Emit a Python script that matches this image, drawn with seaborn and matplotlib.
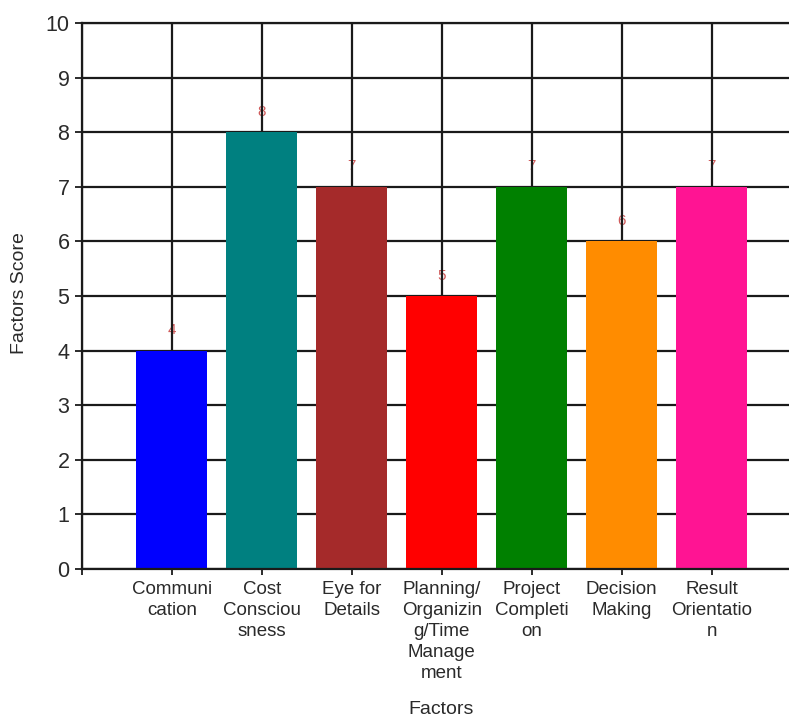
import matplotlib
matplotlib.use("Agg")
import matplotlib.pyplot as plt
import seaborn as sns
import pandas as pd

# Factor names (wrapped as in the chart's axis) and their scores
factors = [
    "Communi\ncation",
    "Cost\nConsciou\nsness",
    "Eye for\nDetails",
    "Planning/\nOrganizin\ng/Time\nManage\nment",
    "Project\nCompleti\non",
    "Decision\nMaking",
    "Result\nOrientatio\nn",
]
scores = [4, 8, 7, 5, 7, 6, 7]
bar_colors = ["#0000FF", "#008080", "#A52A2A", "#FF0000", "#008000", "#FF8C00", "#FF1493"]
y_ticks = list(range(0, 11))

sns.set_style("white")
plt.rcParams["font.family"] = ["Liberation Sans", "DejaVu Sans"]

df = pd.DataFrame({"Factor": factors, "Score": scores})

fig = plt.figure(figsize=(7.89, 7.23), dpi=100)
ax = fig.add_axes([82 / 789, 1 - 569 / 723, 1 - 82 / 789, (569 - 23) / 723])

sns.barplot(data=df, x="Factor", y="Score", hue="Factor", palette=bar_colors,
            legend=False, width=0.79, saturation=1, linewidth=0, ax=ax, zorder=2)

grid_color = "#1a1a1a"
text_color = "#2a2a2a"
ax.set_axisbelow(True)
ax.set_xlim(-1, 6.86)
ax.set_ylim(0, 10)
ax.set_yticks(y_ticks)
ax.set_yticklabels([str(t) for t in y_ticks], fontsize=15.5, color=text_color)
ax.set_xticks(list(range(-1, len(factors))))
ax.set_xticklabels([""] + factors, fontsize=13.5, color=text_color, linespacing=1.3)

ax.grid(True, axis="both", color=grid_color, linewidth=1.6)
ax.tick_params(axis="y", length=5, width=1.3, color=grid_color, pad=4, left=True)
ax.tick_params(axis="x", length=4, width=1.3, color=grid_color, pad=5, bottom=True)

for side in ["left", "bottom", "top"]:
    ax.spines[side].set_visible(True)
    ax.spines[side].set_color(grid_color)
    ax.spines[side].set_linewidth(1.6)
ax.spines["right"].set_visible(False)

# Value labels sit behind the grid lines
for i, v in enumerate(scores):
    ax.text(i, v + 0.3, str(v), ha="center", va="baseline", fontsize=11,
            color="#d05a5a", zorder=0.2)

ax.set_xlabel("")
ax.set_ylabel("")
fig.text(20 / 789, 1 - 293 / 723, "Factors Score", rotation=90, ha="center",
         va="center", fontsize=14, color=text_color)
fig.text(441 / 789, 1 - 709 / 723, "Factors", ha="center", va="center",
         fontsize=14, color=text_color)

fig.savefig("out.png", dpi=100, facecolor="white")
